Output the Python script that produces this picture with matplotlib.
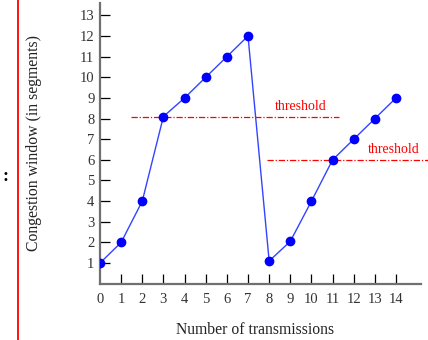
import matplotlib
matplotlib.use("Agg")
import matplotlib.pyplot as plt

# congestion window per transmission round
rounds = list(range(15))
cwnd = [1, 2, 4, 8.1, 9, 10, 11, 12, 1.1, 2.05, 4, 6, 7, 8, 9]

# threshold lines: (y, x start, x end)
thresh1 = (8.1, 1.45, 11.3)
thresh2 = (6.0, 7.9, 15.5)

x_ticks = list(range(1, 15))
x_labels = [str(i) for i in range(15)]
y_ticks = list(range(1, 14))

plt.rcParams['font.family'] = ['Liberation Serif', 'DejaVu Serif']

fig = plt.figure(figsize=(4.28, 3.4), dpi=100)
ax = fig.add_axes([0.2336, 0.1656, 0.75, 0.8256])

ax.plot(rounds, cwnd, color='#3344ff', lw=1.0, marker='o', ms=6,
        mfc='#0000ff', mec='#0000ff', zorder=3)

ax.hlines(thresh1[0], thresh1[1], thresh1[2], colors='red', lw=0.9,
          linestyles=(0, (5, 1.5, 1, 1.5)), zorder=2)
ax.hlines(thresh2[0], thresh2[1], thresh2[2], colors='red', lw=0.9,
          linestyles=(0, (5, 1.5, 1, 1.5)), zorder=2, clip_on=False)
ax.text(9.5, 8.25, 'threshold', color='red', fontsize=10, ha='center', va='bottom')
ax.text(13.9, 6.2, 'threshold', color='red', fontsize=10, ha='center', va='bottom',
        clip_on=False)

ax.set_xlim(0, 15.18)
ax.set_ylim(0, 13.6)

for s in ['top', 'right']:
    ax.spines[s].set_visible(False)
for s in ['left', 'bottom']:
    ax.spines[s].set_color('#707070')
    ax.spines[s].set_linewidth(1.6)

ax.set_xticks(x_ticks)
ax.set_xticklabels([])
ax.set_yticks(y_ticks)
ax.set_yticklabels([str(v) for v in y_ticks])
ax.tick_params(axis='x', direction='in', length=7, width=0.9, color='black')
ax.tick_params(axis='y', direction='in', length=7, width=0.9, color='black',
               labelsize=10.5, pad=4, labelcolor='#333333')

for i, lab in enumerate(x_labels):
    ax.text(i, -0.45, lab, ha='center', va='top', fontsize=10.5, color='#333333')

ax.set_xlabel('Number of transmissions', fontsize=11.3, color='#222222')
ax.set_ylabel('Congestion window (in segments)', fontsize=11.3, color='#222222')
ax.xaxis.set_label_coords(0.483, -0.136)
ax.yaxis.set_label_coords(-0.18, 0.5)

# slide decoration on the left
fig.add_artist(plt.Line2D([18 / 428, 18 / 428], [0, 1], color='red', lw=1.3))
fig.text(5 / 428, 1 - 176 / 340, ':', fontsize=13, fontweight='bold',
         ha='center', va='center')

fig.savefig('out.png', dpi=100)
